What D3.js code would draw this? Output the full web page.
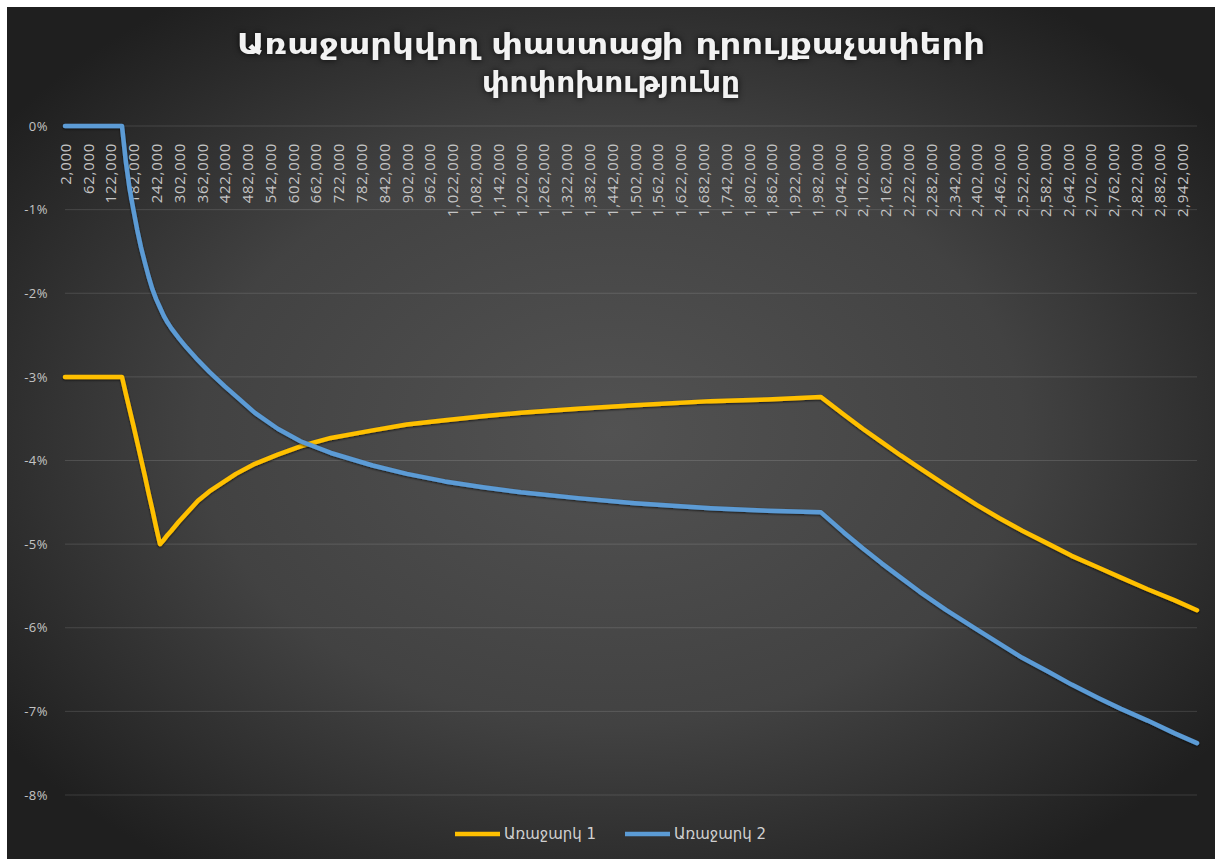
<!DOCTYPE html>
<html>
<head>
<meta charset="utf-8">
<script src="https://cdn.jsdelivr.net/npm/d3@7"></script>
<style>
  body { margin: 0; background: #fff; }
  svg { display: block; }
</style>
</head>
<body>
<div id="chart"></div>
<script>
"use strict"

// income levels (AMD) where the curves were read
var incomes = [2000, 62000, 122000, 152000, 162000, 172000, 182000, 192000, 202000, 212000,
  222000, 232000, 242000, 252000, 262000, 272000, 282000, 302000, 322000, 352000,
  382000, 422000, 452000, 502000, 562000, 622000, 702000, 812000, 902000, 1002000,
  1102000, 1202000, 1352000, 1502000, 1702000, 1852000, 1992000, 2052000, 2102000, 2152000,
  2202000, 2252000, 2322000, 2402000, 2462000, 2522000, 2592000, 2652000, 2722000, 2782000,
  2852000, 2922000, 2982000];

// change of effective rate, %
var offer1 = [-3.00, -3.00, -3.00, -3.00, -3.20, -3.39, -3.58, -3.78, -3.98, -4.18,
  -4.39, -4.59, -4.80, -5.00, -4.95, -4.89, -4.84, -4.73, -4.63, -4.48,
  -4.37, -4.25, -4.16, -4.04, -3.93, -3.83, -3.73, -3.64, -3.57, -3.52,
  -3.47, -3.43, -3.38, -3.34, -3.29, -3.27, -3.24, -3.45, -3.62, -3.78,
  -3.94, -4.09, -4.30, -4.53, -4.69, -4.84, -5.00, -5.14, -5.28, -5.40,
  -5.54, -5.67, -5.79];

var offer2 = [0, 0, 0, 0, -0.42, -0.75, -1.00, -1.24, -1.45, -1.63,
  -1.80, -1.95, -2.07, -2.17, -2.27, -2.35, -2.42, -2.54, -2.65, -2.80,
  -2.94, -3.11, -3.23, -3.43, -3.62, -3.77, -3.91, -4.06, -4.16, -4.25,
  -4.32, -4.38, -4.45, -4.51, -4.57, -4.60, -4.62, -4.86, -5.05, -5.23,
  -5.40, -5.57, -5.79, -6.02, -6.19, -6.36, -6.53, -6.68, -6.84, -6.97,
  -7.11, -7.26, -7.38];

var seriesNames = ["Առաջարկ 1", "Առաջարկ 2"];
var seriesColors = ["#ffc000", "#5b9bd5"];

var xTicks = [2000, 62000, 122000, 182000, 242000, 302000, 362000, 422000, 482000, 542000,
  602000, 662000, 722000, 782000, 842000, 902000, 962000, 1022000, 1082000, 1142000,
  1202000, 1262000, 1322000, 1382000, 1442000, 1502000, 1562000, 1622000, 1682000, 1742000,
  1802000, 1862000, 1922000, 1982000, 2042000, 2102000, 2162000, 2222000, 2282000, 2342000,
  2402000, 2462000, 2522000, 2582000, 2642000, 2702000, 2762000, 2822000, 2882000, 2942000];
var yTicks = [0, -1, -2, -3, -4, -5, -6, -7, -8];

var titleLines = ["Առաջարկվող փաստացի դրույքաչափերի", "փոփոխությունը"];

var W = 1215, H = 859;
var svg = d3.select("#chart").append("svg")
  .attr("width", W)
  .attr("height", H);

var defs = svg.append("defs");
var grad = defs.append("radialGradient")
  .attr("id", "bg")
  .attr("cx", "50%").attr("cy", "50%").attr("r", "62%");
grad.append("stop").attr("offset", "0%").attr("stop-color", "#525252");
grad.append("stop").attr("offset", "55%").attr("stop-color", "#424242");
grad.append("stop").attr("offset", "100%").attr("stop-color", "#1f1f1f");

var shadow = defs.append("filter").attr("id", "shadow")
  .attr("x", "-5%").attr("y", "-5%").attr("width", "110%").attr("height", "110%");
shadow.append("feDropShadow")
  .attr("dx", 0).attr("dy", 1).attr("stdDeviation", 1.3)
  .attr("flood-color", "#000").attr("flood-opacity", 0.7);

svg.append("rect")
  .attr("x", 7).attr("y", 7)
  .attr("width", W - 7).attr("height", H - 7)
  .attr("fill", "url(#bg)");

var x = d3.scaleLinear()
  .domain([2000, 2982000])
  .range([65, 1197]);

var y = d3.scaleLinear()
  .domain([-8, 0])
  .range([795, 126]);

// grid
svg.append("g")
  .selectAll("line")
  .data(yTicks)
  .enter().append("line")
  .attr("x1", x.range()[0])
  .attr("x2", x.range()[1])
  .attr("y1", function(d) { return y(d); })
  .attr("y2", function(d) { return y(d); })
  .attr("stroke", "#ffffff")
  .attr("stroke-opacity", 0.13)
  .attr("stroke-width", 1);

// y axis
var y_axis = d3.axisLeft(y)
  .tickValues(yTicks)
  .tickSize(0)
  .tickPadding(0)
  .tickFormat(function(d) { return d + "%"; });

var gy = svg.append("g")
  .attr("transform", "translate(48,0)")
  .call(y_axis);
gy.select(".domain").remove();
gy.selectAll("text")
  .attr("fill", "#c4c4c4")
  .style("font-family", "'Open Sans'")
  .style("font-size", "13px")
  .style("letter-spacing", "0.5px");

// x axis, labels hanging under the 0% line
var x_axis = d3.axisBottom(x)
  .tickValues(xTicks)
  .tickSize(0)
  .tickFormat(d3.format(","));

var gx = svg.append("g")
  .attr("transform", "translate(0," + y(0) + ")")
  .call(x_axis);
gx.select(".domain").remove();
gx.selectAll("text")
  .attr("transform", "rotate(-90)")
  .attr("x", -17)
  .attr("y", 0)
  .attr("dy", "0.35em")
  .attr("text-anchor", "end")
  .attr("fill", "#c4c4c4")
  .style("font-family", "'Open Sans'")
  .style("font-size", "15px")
  .style("letter-spacing", "0.7px");

// lines
var line = d3.line()
  .x(function(d) { return x(d.x); })
  .y(function(d) { return y(d.y); });

[offer1, offer2].forEach(function(vals, i) {
  var pts = incomes.map(function(v, j) { return {x: v, y: vals[j]}; });
  svg.append("path")
    .datum(pts)
    .attr("fill", "none")
    .attr("stroke", seriesColors[i])
    .attr("stroke-width", 4.5)
    .attr("stroke-linejoin", "round")
    .attr("stroke-linecap", "round")
    .attr("filter", "url(#shadow)")
    .attr("d", line);
});

// title
svg.append("g")
  .selectAll("text")
  .data(titleLines)
  .enter().append("text")
  .attr("x", 611)
  .attr("y", function(d, i) { return 54 + i * 38; })
  .attr("text-anchor", "middle")
  .attr("fill", "#f2f2f2")
  .attr("textLength", function(d, i) { return i === 0 ? 748 : 258; })
  .attr("lengthAdjust", "spacingAndGlyphs")
  .style("font-family", "'DejaVu Sans'")
  .style("font-weight", "bold")
  .style("font-size", "29px")
  .style("filter", "drop-shadow(0 0 3px rgba(0,0,0,0.8))")
  .text(function(d) { return d; });

// legend
var legend = svg.append("g")
  .attr("transform", "translate(455,834)");
var lx = [0, 170];
seriesNames.forEach(function(name, i) {
  legend.append("line")
    .attr("x1", lx[i]).attr("x2", lx[i] + 45)
    .attr("y1", 0).attr("y2", 0)
    .attr("stroke", seriesColors[i])
    .attr("stroke-width", 4.5);
  legend.append("text")
    .attr("x", lx[i] + 49)
    .attr("y", 0)
    .attr("dy", "0.35em")
    .attr("fill", "#d0d0d0")
    .style("font-family", "'DejaVu Sans'")
    .style("font-size", "15px")
    .text(name);
});
</script>
</body>
</html>
